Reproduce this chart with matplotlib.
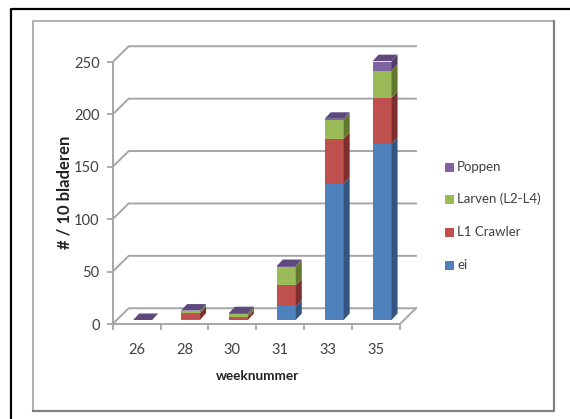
import matplotlib
matplotlib.use('Agg')
import matplotlib.pyplot as plt
from matplotlib.patches import Polygon, Rectangle

weeks = ['26', '28', '30', '31', '33', '35']
ei = [0, 0.5, 0, 13, 130, 168]
l1 = [0, 6, 3, 20, 43, 44]
larven = [0, 2, 3, 18, 18, 26]
poppen = [0, 0.5, 0.5, 0.5, 1, 9]
series_names = ['ei', 'L1 Crawler', 'Larven (L2-L4)', 'Poppen']
y_ticks = [0, 50, 100, 150, 200, 250]

front = ['#4f81bd', '#c0504d', '#9bbb59', '#8064a2']
side = ['#33557f', '#7c2f2d', '#62782f', '#503d68']
top = ['#3f6797', '#9a3f3d', '#7c9647', '#5f4a80']
grid_col = '#a6a6a6'
text_col = '#404040'

W, H = 570, 419
plt.rcParams['font.family'] = ['Lato', 'DejaVu Sans']
fig = plt.figure(figsize=(W / 100, H / 100), dpi=100)

# whole-figure pixel axes for the frames
bg = fig.add_axes([0, 0, 1, 1])
bg.set_xlim(0, W)
bg.set_ylim(H, 0)
bg.axis('off')
bg.plot([11, 11, W], [H, 9.5, 9.5], color='black', lw=1.6)
bg.plot([33, 33, 553.5], [411, 21, 21], color='#9a9a9a', lw=1.1)
bg.plot([33, 553.5, 553.5], [411, 411, 21], color='#808080', lw=1.6)

# plot area, front plane of the pseudo-3D chart
x0, x1, y0, y1 = 112.7, 400, 324, 62
ax = fig.add_axes([x0 / W, 1 - y0 / H, (x1 - x0) / W, (y0 - y1) / H])
ax.patch.set_alpha(0)
ax.set_xlim(0, 6)
ax.set_ylim(0, 250)
for s in ax.spines.values():
    s.set_visible(False)

px_x = 6 / (x1 - x0)
px_y = 250 / (y0 - y1)
wall_dx = 16 * px_x
wall_dy = 15 * px_y * 1.05
bar_dx = 6 * px_x
bar_dy = 6.5 * px_y
bar_w = 19 * px_x
base = 4 * px_y
shift = 6 * px_x

# floor and walls
for v in y_ticks:
    ax.plot([0, wall_dx, 6 + wall_dx], [v, v + wall_dy, v + wall_dy], color=grid_col, lw=1.4, clip_on=False)
ax.plot([0, 0], [0, 250], color=grid_col, lw=1.4, clip_on=False)
ax.plot([0, 6, 6 + wall_dx], [0, 0, wall_dy], color=grid_col, lw=1.4, clip_on=False)

# bars
data = [ei, l1, larven, poppen]
for i in range(len(weeks)):
    cx = i + 0.5 + shift
    left = cx - bar_w / 2
    right = cx + bar_w / 2
    b = base
    for k, vals in enumerate(data):
        h = vals[i]
        if h > 0:
            ax.bar(cx, h, bar_w, bottom=b, color=front[k], zorder=3)
            ax.add_patch(Polygon([(right, b), (right + bar_dx, b + bar_dy),
                                  (right + bar_dx, b + h + bar_dy), (right, b + h)],
                                 fc=side[k], ec='none', zorder=3, clip_on=False))
        b += h
    # top face takes the colour of the uppermost series
    ax.add_patch(Polygon([(left, b), (right, b), (right + bar_dx, b + bar_dy), (left + bar_dx, b + bar_dy)],
                         fc=top[3], ec='none', zorder=4, clip_on=False))

ax.set_xticks(range(7))
ax.set_xticklabels([])
ax.set_xticks([i + 0.5 for i in range(6)], minor=True)
ax.set_xticklabels(weeks, minor=True, fontsize=10.5, color=text_col)
ax.tick_params(axis='x', which='major', length=4, width=1.3, color=grid_col)
ax.tick_params(axis='x', which='minor', length=0, pad=14)
ax.set_yticks(y_ticks)
ax.set_yticklabels([str(v) for v in y_ticks], fontsize=10.5, color=text_col)
ax.tick_params(axis='y', length=4, width=1.3, color=grid_col, pad=5.5)

fig.text(257 / W, 1 - 376 / H, 'weeknummer', ha='center', va='center', fontsize=9.8, fontweight='bold', color='#222222')
fig.text(64 / W, 1 - 192 / H, '# / 10 bladeren', rotation=90, ha='center', va='center',
         fontsize=12, fontweight='bold', color='#222222')

# legend
legend_y = [167, 199, 232, 265]
for name, col, ly in zip(series_names[::-1], front[::-1], legend_y):
    bg.add_patch(Rectangle((445, ly - 4.5), 9, 9, fc=col, ec='none'))
    bg.text(457, ly, name, va='center', ha='left', fontsize=9.5, color=text_col)

fig.savefig('out.png', dpi=100)
